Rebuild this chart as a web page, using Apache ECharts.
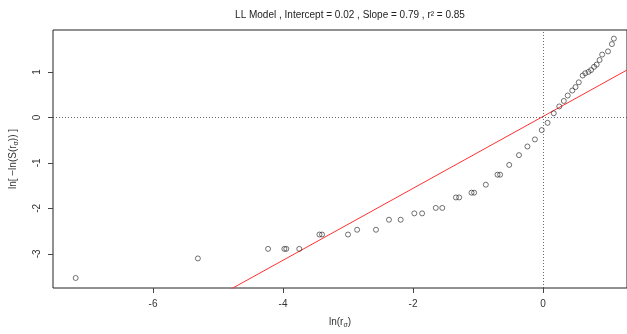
<!DOCTYPE html>
<html>
<head>
<meta charset="utf-8">
<script src="https://cdn.jsdelivr.net/npm/echarts@6/dist/echarts.min.js"></script>
<style>html,body{margin:0;padding:0;background:#fff}#c{width:627px;height:334px}</style>
</head>
<body>
<div id="c"></div>
<script>
// ---- data ----
const TITLE = 'LL Model , Intercept = 0.02 , Slope = 0.79 , r² = 0.85';
const INTERCEPT = 0.02;
const SLOPE = 0.79;
const xValues = [-7.19, -5.31, -4.23, -3.98, -3.95, -3.75, -3.44, -3.40, -3.00, -2.86,
  -2.57, -2.37, -2.19, -1.98, -1.86, -1.65, -1.55, -1.34, -1.29, -1.10,
  -1.06, -0.88, -0.70, -0.66, -0.52, -0.37, -0.24, -0.125, -0.02, 0.07,
  0.165, 0.25, 0.32, 0.38, 0.45, 0.50, 0.55, 0.61, 0.65, 0.70,
  0.74, 0.785, 0.825, 0.87, 0.91, 1.00, 1.06, 1.09];
const yValues = [-3.53, -3.10, -2.89, -2.89, -2.89, -2.89, -2.575, -2.575, -2.575, -2.47,
  -2.47, -2.25, -2.25, -2.11, -2.11, -1.99, -1.99, -1.76, -1.76, -1.655,
  -1.655, -1.48, -1.26, -1.26, -1.045, -0.83, -0.64, -0.485, -0.28, -0.12,
  0.09, 0.24, 0.36, 0.48, 0.59, 0.665, 0.77, 0.92, 0.97, 1.00,
  1.04, 1.11, 1.16, 1.26, 1.38, 1.45, 1.61, 1.73];
const xTicks = [-6, -4, -2, 0];
const yTicks = [-3, -2, -1, 0, 1];
const X_MIN = -7.539, X_MAX = 1.292;
const Y_MIN = -3.75, Y_MAX = 1.92;

const points = xValues.map((x, i) => [x, yValues[i]]);
const fitLine = [[X_MIN, INTERCEPT + SLOPE * X_MIN], [X_MAX, INTERCEPT + SLOPE * X_MAX]];

const FONT = '"Liberation Sans", Arial, sans-serif';
const chart = echarts.init(document.getElementById('c'), null, {renderer: 'canvas'});
chart.setOption({
  animation: false,
  backgroundColor: '#fff',
  title: {
    text: TITLE,
    left: 345, top: 5, textAlign: 'center',
    textStyle: {fontFamily: FONT, fontSize: 10, fontWeight: 'normal', color: '#222'}
  },
  grid: {left: 53, right: 0, top: 30, bottom: 41, show: true, borderColor: '#222', borderWidth: 1, containLabel: false},
  xAxis: {
    type: 'value', min: X_MIN, max: X_MAX,
    name: 'ln(r{sub|σ})', nameLocation: 'middle', nameGap: 28,
    nameTextStyle: {fontFamily: FONT, fontSize: 10, color: '#333', rich: {sub: {fontFamily: FONT, fontSize: 7, color: '#333', padding: [6, 0, 0, 0]}}},
    axisLine: {show: false, onZero: false},
    axisTick: {show: true, length: 5, customValues: xTicks, lineStyle: {color: '#444'}},
    axisLabel: {customValues: xTicks, margin: 11, fontFamily: FONT, fontSize: 10, color: '#333'},
    splitLine: {show: false}
  },
  yAxis: {
    type: 'value', min: Y_MIN, max: Y_MAX,
    name: 'ln[ −ln(S(r{sub|σ})) ]', nameLocation: 'middle', nameGap: 33,
    nameTextStyle: {fontFamily: FONT, fontSize: 10, color: '#333', rich: {sub: {fontFamily: FONT, fontSize: 7, color: '#333', padding: [6, 0, 0, 0]}}},
    axisLine: {show: false, onZero: false},
    axisTick: {show: true, length: 5, customValues: yTicks, lineStyle: {color: '#444'}},
    axisLabel: {customValues: yTicks, margin: 11, rotate: 90, fontFamily: FONT, fontSize: 10, color: '#333'},
    splitLine: {show: false}
  },
  series: [
    {
      type: 'line', data: fitLine, showSymbol: false, symbol: 'none', clip: true,
      lineStyle: {color: '#ff3030', width: 1}, silent: true, z: 2
    },
    {
      type: 'scatter', data: points, symbol: 'circle', symbolSize: 5,
      itemStyle: {color: 'rgba(0,0,0,0)', borderColor: '#222', borderWidth: 0.8}, z: 3,
      markLine: {
        silent: true, symbol: 'none', label: {show: false},
        lineStyle: {color: '#444', type: [1, 2], width: 0.8},
        data: [{xAxis: 0}, {yAxis: 0}]
      }
    }
  ]
});
</script>
</body>
</html>
